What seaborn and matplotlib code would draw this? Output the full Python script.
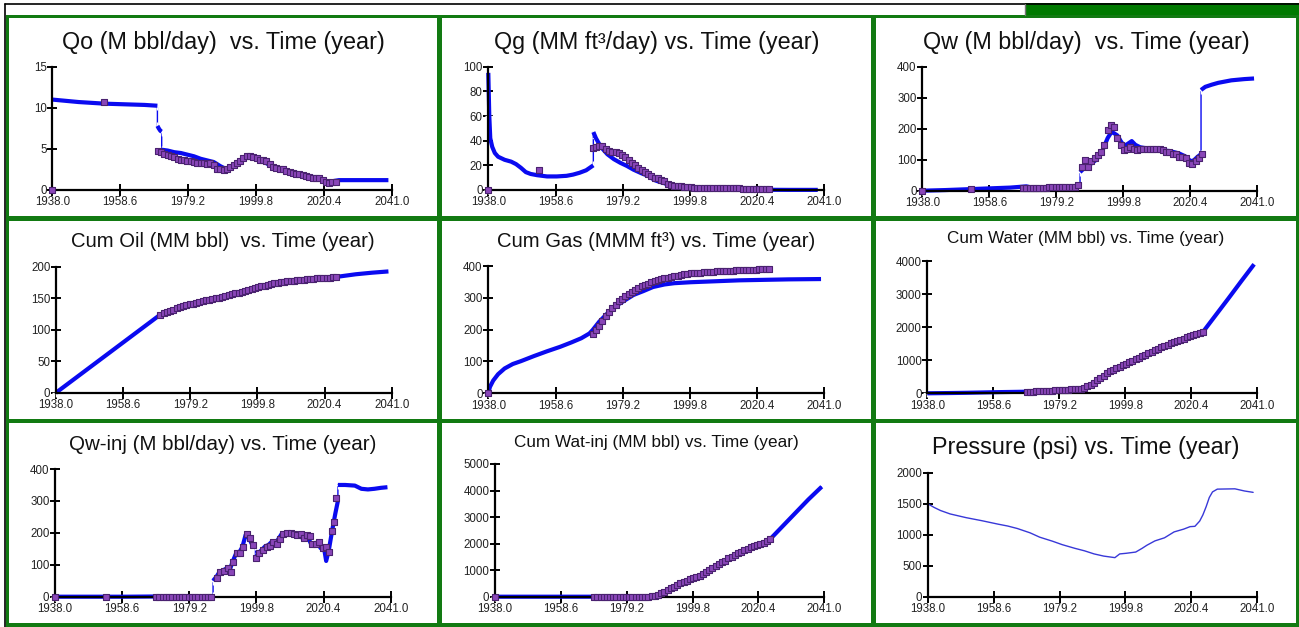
import numpy as np
import pandas as pd
import matplotlib
matplotlib.use("Agg")
import matplotlib.pyplot as plt
import seaborn as sns
from matplotlib.patches import Rectangle
from matplotlib.lines import Line2D

# ---------------- data ----------------
x_ticks = [1938.0, 1958.6, 1979.2, 1999.8, 2020.4, 2041.0]

# Qo (M bbl/day)
qo_sim_years = [1938, 1942, 1946, 1950, 1954, 1958, 1962, 1966, 1969.9, 1969.9, 1970.3, 1970.8, 1971.2, 1971.2,
                1973, 1975, 1977, 1979, 1981, 1983, 1985, 1987, 1989, 1991, 1993, 1995, 1997, 1999, 2000.5,
                2002, 2004, 2006, 2008, 2010, 2012, 2014, 2016, 2018, 2020, 2021.5, 2022.5, 2023.5, 2025,
                2028, 2031, 2034, 2037, 2040]
qo_sim = [11.0, 10.85, 10.7, 10.6, 10.5, 10.45, 10.4, 10.35, 10.25, 7.8, 7.5, 7.2, 7.1, 4.9,
          4.8, 4.6, 4.5, 4.3, 4.1, 3.8, 3.6, 3.4, 2.9, 2.5, 2.9, 3.5, 4.0, 4.0, 3.9,
          3.5, 3.0, 2.7, 2.5, 2.3, 2.1, 1.9, 1.7, 1.5, 1.2, 1.0, 0.9, 1.1, 1.2,
          1.2, 1.2, 1.2, 1.2, 1.2]
qo_hist_years = [1938, 1953.8] + list(range(1970, 2025))
qo_hist = [0, 10.7,
           4.7, 4.6, 4.4, 4.3, 4.1, 4.0, 3.8, 3.7, 3.6, 3.5,
           3.5, 3.4, 3.3, 3.3, 3.3, 3.2, 3.3, 3.1, 2.6, 2.5,
           2.4, 2.5, 2.8, 3.1, 3.3, 3.5, 3.9, 4.1, 4.1, 4.0,
           3.9, 3.7, 3.7, 3.5, 3.2, 2.8, 2.7, 2.6, 2.6, 2.3,
           2.2, 2.1, 2.0, 1.9, 1.8, 1.7, 1.6, 1.5, 1.5, 1.4,
           1.2, 1.0, 0.8, 1.0, 1.0]

# Qg (MM ft3/day)
qg_sim_years = [1938.0, 1938.0, 1938.3, 1938.6, 1939.2, 1940, 1941, 1943, 1945, 1946.5, 1948, 1949.5, 1951,
                1953, 1956, 1959, 1962, 1964, 1966, 1968, 1970.2, 1970.2, 1971, 1972.5, 1974.5, 1976.5,
                1978.5, 1980.5, 1982.5, 1985, 1987, 1989, 1990, 1992, 1994, 1996, 2000, 2005, 2010, 2015,
                2020, 2025, 2030, 2035, 2039]
qg_sim = [0, 95, 60, 42, 35, 30, 27, 24.5, 23, 21, 18, 14.5, 13,
          12, 11, 11, 11.5, 12.5, 14, 16, 20, 47, 42, 35, 29, 25,
          22, 19.5, 16.5, 13.5, 11.5, 8, 7, 5.5, 3, 1.5, 1, 0.6, 0.4, 0.3,
          0.2, 0.15, 0.1, 0.1, 0.1]
qg_hist_years = [1938, 1953.5] + list(range(1970, 2025))
qg_hist = [0, 16,
           34, 35, 36, 36, 33, 32, 31, 30.5, 30, 28.5,
           27, 24, 22, 20, 18, 16, 15, 13, 11, 10,
           9.5, 8, 7, 5, 4, 3.5, 3, 3, 2.5, 2.5,
           2.5, 2, 2, 2, 2, 2, 2, 2, 1.5, 1.5,
           1.5, 1.5, 1.5, 1.5, 1.5, 1.5, 1, 1, 1, 1,
           1, 1, 1, 1, 1]

# Qw (M bbl/day)
qw_sim_years = [1938, 1945, 1950, 1955, 1960, 1965, 1970, 1972, 1976, 1980, 1984, 1986.5, 1986.5, 1988,
                1990, 1991.5, 1993, 1994, 1995, 1996.2, 1997, 1998, 1999, 2000, 2001, 2002.4, 2003.5,
                2005, 2008, 2011, 2014, 2017, 2019, 2020.5, 2021.5, 2022.5, 2023.7, 2023.7, 2025, 2027,
                2029, 2031, 2033, 2035, 2037, 2040]
qw_sim = [0, 2, 4, 6, 8, 10, 14, 9, 10, 11, 12, 14, 60, 75,
          88, 100, 120, 145, 170, 190, 185, 178, 160, 145, 150, 160, 148,
          140, 135, 130, 128, 120, 110, 95, 98, 108, 118, 325, 335, 342,
          348, 352, 356, 358, 360, 362]
qw_hist_years = [1938, 1953] + list(range(1969, 2025))
qw_hist = [0, 5,
           8, 8, 8, 8, 9, 9, 10, 10, 11, 11, 12,
           12, 12, 11, 11, 12, 12, 20, 75, 100, 78,
           95, 104, 115, 125, 147, 196, 212, 204, 169, 147,
           131, 136, 142, 134, 131, 136, 134, 136, 134, 133,
           136, 134, 131, 126, 124, 120, 117, 110, 110, 104,
           90, 86, 96, 104, 120]

# Cum Oil (MM bbl)
co_sim_years = [1938, 1969.5, 1972, 1975, 1979, 1984, 1989, 1994, 1999, 2004, 2009, 2015, 2020, 2025,
                2030, 2035, 2040]
co_sim = [0, 122, 128, 134, 140, 146.5, 152, 158.5, 164.5, 171, 176, 180, 182.5, 184.5,
          188, 190.5, 192.5]
co_hist_years = list(range(1970, 2025))
co_hist = [124, 126, 128, 130, 132, 134, 135.5, 137, 138.5, 140,
           141, 142.5, 143.5, 145, 146.5, 147.5, 149, 150, 151, 152,
           153, 154.5, 156, 157.5, 159, 160.5, 162, 163.5, 165, 166.5,
           168, 169, 170, 171.5, 172.5, 173.5, 174.5, 175.5, 176, 177,
           177.5, 178, 178.5, 179, 179.5, 180, 180.5, 181, 181.5, 182,
           182, 182.5, 182.5, 183, 183]

# Cum Gas (MMM ft3)
cg_sim_years = [1938, 1938.5, 1939.5, 1941, 1943, 1945.5, 1948, 1952, 1956, 1960, 1963.5, 1966.5, 1969,
                1970, 1972, 1974.5, 1977.5, 1980, 1982.5, 1985.5, 1988.5, 1992, 1995, 2000, 2005, 2010,
                2015, 2020, 2025, 2030, 2035, 2040]
cg_sim = [0, 20, 40, 60, 78, 92, 101, 117, 132, 146, 160, 173, 188,
          199, 225, 251, 277, 293, 309, 321, 334, 342, 346, 349, 351, 353,
          355, 356, 357, 358, 358.5, 359]
cg_hist_years = [1938] + list(range(1970, 2025))
cg_hist = [0,
           185, 198, 212, 227, 242, 256, 268, 279, 289, 297,
           305, 312, 319, 325, 331, 336, 341, 345, 349, 352,
           355, 358, 361, 363.5, 366, 368, 370, 372, 373.5, 375,
           376.5, 377.5, 378.5, 379.5, 380.5, 381.5, 382, 382.5, 383, 383.5,
           384, 384.5, 385, 385.5, 386, 386.5, 387, 387.5, 388, 388.5,
           389, 389.5, 390, 390, 390.5]

# Cum Water (MM bbl)
cw_sim_years = [1938, 1945, 1950, 1955, 1960, 1965, 1970, 1975, 1980, 1985, 1988, 1991, 1994, 1997, 2000,
                2004, 2008, 2012, 2016, 2020, 2024, 2028, 2032, 2036, 2040]
cw_sim = [0, 8, 15, 25, 35, 42, 50, 70, 98, 128, 210, 390, 600, 760, 895,
          1075, 1255, 1430, 1585, 1720, 1850, 2360, 2870, 3390, 3900]
cw_hist_years = list(range(1969, 2025))
cw_hist = [45, 50, 54, 58, 62, 66, 70, 75, 80, 86, 92,
           98, 104, 110, 116, 122, 128, 140, 170, 210, 260,
           320, 390, 460, 530, 600, 660, 710, 760, 805, 850,
           895, 940, 985, 1030, 1075, 1120, 1165, 1210, 1255, 1300,
           1345, 1390, 1430, 1470, 1510, 1550, 1585, 1620, 1655, 1690,
           1720, 1750, 1780, 1810, 1850]

# Qw-inj (M bbl/day)
qi_sim_years = [1938, 1960, 1986.5, 1986.5, 1987.5, 1988.5, 1989.5, 1990.5, 1991.5, 1992.5, 1993.5, 1994.5,
                1995.5, 1996.5, 1997.5, 1998.5, 1999.5, 1999.5, 2000.5, 2001.5, 2002.5, 2003.5, 2004.5,
                2005.5, 2006.5, 2007.5, 2008.5, 2009.5, 2010.5, 2011.5, 2012.5, 2013.5, 2014.5, 2015.5,
                2016.5, 2017.5, 2018.5, 2019.5, 2020.5, 2021.2, 2022, 2023, 2024, 2024.8, 2024.8, 2027,
                2030, 2032, 2034, 2036, 2038, 2040]
qi_sim = [0, 0, 2, 50, 62, 78, 82, 88, 80, 110, 134, 138,
          156, 194, 184, 163, 160, 122, 138, 147, 158, 162, 172,
          166, 180, 196, 199, 201, 197, 194, 196, 186, 192, 190,
          166, 165, 170, 152, 155, 112, 145, 205, 260, 300, 350, 350,
          348, 338, 336, 338, 341, 343]
qi_hist_years = ([1938, 1953.5] + list(range(1969, 1987)) +
                 [1987.6, 1988.6, 1989.9, 1991.1, 1992.0, 1992.7, 1993.7, 1994.8, 1995.8, 1996.8,
                  1997.8, 1998.9, 1999.7, 2000.7, 2001.9, 2002.9, 2004.0, 2005.0, 2006.0, 2007.0,
                  2008.0, 2009.3, 2010.3, 2011.3, 2012.4, 2013.4, 2014.4, 2015.4, 2016.2, 2017.0,
                  2018.0, 2019.1, 2020.1, 2021.2, 2022.2, 2022.9, 2023.6, 2024.2])
qi_hist = ([0, 0] + [0] * 18 +
           [60, 78, 80, 89, 78, 110, 136, 136, 155, 196,
            183, 162, 122, 138, 146, 157, 160, 172, 164, 180,
            196, 199, 201, 196, 193, 196, 185, 193, 191, 165,
            164, 170, 151, 155, 139, 206, 235, 310])

# Cum Wat-inj (MM bbl)
ci_sim_years = [1938, 1986, 1988, 1991, 1995, 1999, 2003, 2007, 2011, 2015, 2019, 2022, 2024, 2028, 2032,
                2036, 2040.2]
ci_sim = [0, 0, 40, 185, 435, 660, 850, 1150, 1440, 1700, 1900, 2040, 2160, 2660, 3160,
          3660, 4145]
ci_hist_years = [1938] + list(range(1969, 2025))
ci_hist = ([0] + [0] * 18 +
           [20, 40, 80, 130, 185, 250, 310, 375, 435, 500,
            560, 610, 660, 700, 740, 790, 850, 920, 1000, 1080,
            1150, 1220, 1290, 1360, 1440, 1510, 1570, 1640, 1700, 1760,
            1810, 1860, 1900, 1945, 1990, 2040, 2100, 2160])

# Pressure (psi)
pr_years = [1938, 1940, 1942, 1945, 1950, 1955, 1960, 1963, 1966, 1970, 1973, 1977, 1980, 1984, 1987, 1990,
            1993, 1996.5, 1998, 2000, 2003, 2005, 2006.5, 2009, 2012, 2015, 2018, 2020, 2021.5, 2023, 2024,
            2025, 2026, 2027, 2028.5, 2034, 2037, 2039.7]
pr_vals = [1500, 1440, 1390, 1335, 1275, 1225, 1170, 1140, 1100, 1030, 960, 895, 840, 780, 740, 690,
           655, 630, 690, 700, 720, 780, 830, 900, 950, 1045, 1090, 1130, 1135, 1220, 1320,
           1450, 1600, 1690, 1735, 1740, 1705, 1683]

panels = [
    ("Qo (M bbl/day)  vs. Time (year)", 16.8, qo_sim_years, qo_sim, qo_hist_years, qo_hist, [0, 5, 10, 15]),
    ("Qg (MM ft\u00b3/day) vs. Time (year)", 16.8, qg_sim_years, qg_sim, qg_hist_years, qg_hist, [0, 20, 40, 60, 80, 100]),
    ("Qw (M bbl/day)  vs. Time (year)", 16.8, qw_sim_years, qw_sim, qw_hist_years, qw_hist, [0, 100, 200, 300, 400]),
    ("Cum Oil (MM bbl)  vs. Time (year)", 14.6, co_sim_years, co_sim, co_hist_years, co_hist, [0, 50, 100, 150, 200]),
    ("Cum Gas (MMM ft\u00b3) vs. Time (year)", 14.6, cg_sim_years, cg_sim, cg_hist_years, cg_hist, [0, 100, 200, 300, 400]),
    ("Cum Water (MM bbl) vs. Time (year)", 12.3, cw_sim_years, cw_sim, cw_hist_years, cw_hist, [0, 1000, 2000, 3000, 4000]),
    ("Qw-inj (M bbl/day) vs. Time (year)", 14.8, qi_sim_years, qi_sim, qi_hist_years, qi_hist, [0, 100, 200, 300, 400]),
    ("Cum Wat-inj (MM bbl) vs. Time (year)", 12.3, ci_sim_years, ci_sim, ci_hist_years, ci_hist, [0, 1000, 2000, 3000, 4000, 5000]),
    ("Pressure (psi) vs. Time (year)", 16.8, pr_years, pr_vals, None, None, [0, 500, 1000, 1500, 2000]),
]

# ---------------- layout (pixels) ----------------
W, H = 1299, 627
sns.set_theme(style="white")
plt.rcParams["font.family"] = ["Liberation Sans", "DejaVu Sans"]

fig = plt.figure(figsize=(W / 100, H / 100), dpi=100)
fig.patch.set_facecolor("white")


def frect(x0, y0, x1, y1, **kw):
    r = Rectangle((x0 / W, 1 - y1 / H), (x1 - x0) / W, (y1 - y0) / H,
                  transform=fig.transFigure, **kw)
    fig.add_artist(r)


GREEN = "#127a12"
# top bar
frect(5, 3, 1299, 14.5, facecolor="white", edgecolor="none", zorder=0)
frect(1025, 3, 1299, 15, facecolor="#007a00", edgecolor="none", zorder=0)
fig.add_artist(Line2D([5 / W, 1], [1 - 3.5 / H, 1 - 3.5 / H], transform=fig.transFigure, color="black", lw=1.2))
fig.add_artist(Line2D([5.5 / W, 5.5 / W], [0, 1 - 3.5 / H], transform=fig.transFigure, color="black", lw=1.2))
fig.add_artist(Line2D([1025 / W, 1025 / W], [1 - 14.5 / H, 1 - 3.5 / H], transform=fig.transFigure, color="#777777", lw=1))
# green grid background
frect(6, 14.5, 1299, 627, facecolor=GREEN, edgecolor="none", zorder=0)
cols = [(9, 437), (442, 871), (876, 1295.5)]
rows = [(18, 216), (221, 419), (423, 623)]
for (r0, r1) in rows:
    for (c0, c1) in cols:
        frect(c0, r0, c1, r1, facecolor="white", edgecolor="none", zorder=0)

axes_px = [
    (52.3, 391.7, 66.7, 190.0), (488.3, 824.3, 66.7, 190.0), (922.3, 1257.3, 66.7, 190.7),
    (56.0, 391.7, 266.7, 392.7), (488.3, 824.3, 266.0, 393.3), (927.3, 1257.3, 261.0, 393.3),
    (55.0, 390.7, 469.0, 596.7), (495.0, 824.3, 464.0, 596.7), (927.7, 1257.3, 472.7, 596.7),
]
title_y = [42.5, 42, 42, 241.7, 241.5, 238.7, 445, 442, 447.5]
col_centers = [223, 656.5, 1086]

BLUE = "#0a0af0"
SQ_FACE = "#8a46b8"
SQ_EDGE = "#4a2270"

for i, (title, tsize, sx, sy, hx, hy, yt) in enumerate(panels):
    l, r, t, b = axes_px[i]
    ax = fig.add_axes([l / W, 1 - b / H, (r - l) / W, (b - t) / H])
    ax.set_facecolor("none")
    sim = pd.DataFrame({"year": sx, "val": sy})
    if hx is None:
        sns.lineplot(data=sim, x="year", y="val", ax=ax, color="#3838d8", lw=1.0,
                     sort=False, estimator=None)
    else:
        sim["seg"] = np.concatenate([[0], np.cumsum(np.diff(sim["year"].to_numpy()) == 0)])
        sns.lineplot(data=sim, x="year", y="val", ax=ax, color=BLUE, lw=1.0,
                     sort=False, estimator=None, marker="+", markersize=6,
                     markeredgewidth=1.0, clip_on=False)
        sns.lineplot(data=sim, x="year", y="val", units="seg", ax=ax, color=BLUE, lw=3.0,
                     sort=False, estimator=None, solid_capstyle="butt", clip_on=False)
        hist = pd.DataFrame({"year": hx, "val": hy})
        sns.scatterplot(data=hist, x="year", y="val", ax=ax, marker="s", s=24,
                        color=SQ_FACE, edgecolor=SQ_EDGE, linewidth=0.8, zorder=4, clip_on=False)
    ax.set_xlim(x_ticks[0], x_ticks[-1])
    ax.set_ylim(yt[0], yt[-1])
    ax.set_xticks(x_ticks)
    ax.set_xticklabels([f"{v:.1f}" for v in x_ticks])
    ax.set_yticks(yt)
    ax.set_yticklabels([str(v) for v in yt])
    ax.set_xlabel("")
    ax.set_ylabel("")
    for s in ["top", "right"]:
        ax.spines[s].set_visible(False)
    for s in ["left", "bottom"]:
        ax.spines[s].set_color("black")
        ax.spines[s].set_linewidth(1.6)
    ax.tick_params(axis="x", direction="inout", length=8, width=1.4, color="black",
                   labelsize=8.3, labelcolor="#222222", pad=0.5, bottom=True)
    ax.tick_params(axis="y", direction="inout", length=7, width=1.4, color="black",
                   labelsize=8.3, labelcolor="#222222", pad=0.5, left=True)
    ax.grid(False)
    fig.text(col_centers[i % 3] / W, 1 - title_y[i] / H, title, ha="center", va="center",
             fontsize=tsize, color="#111111")

fig.savefig("out.png", dpi=100, facecolor=fig.get_facecolor())
